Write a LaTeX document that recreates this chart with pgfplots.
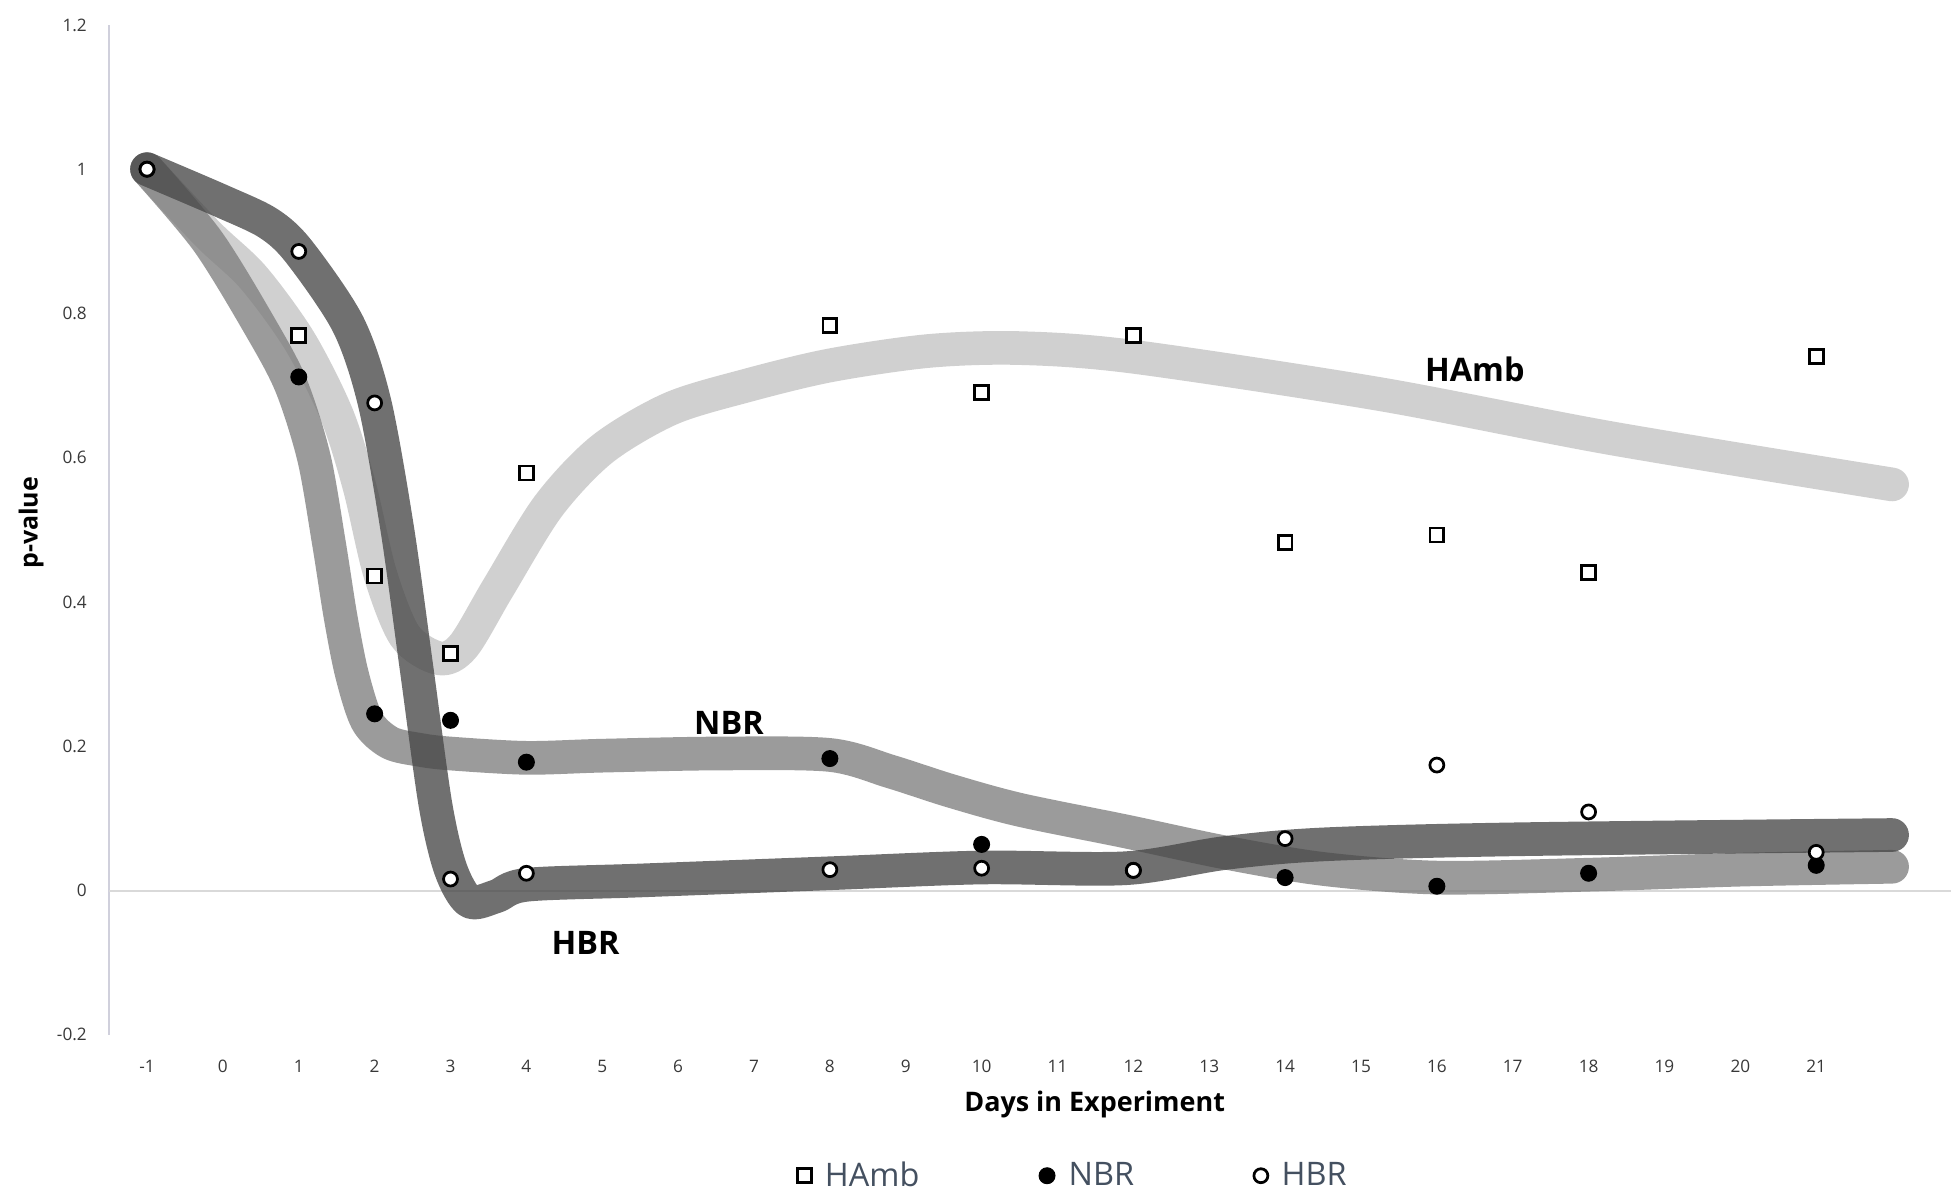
\documentclass[border=0pt]{standalone}
\usepackage{fontspec}
\setmainfont{Open Sans}
\usepackage{pgfplots}
\pgfplotsset{compat=1.18}
\definecolor{cHAmb}{HTML}{C3C3C3}
\definecolor{cNBR}{HTML}{7F7F7F}
\definecolor{cHBR}{HTML}{484848}
\definecolor{axgray}{HTML}{D0D0DC}
\definecolor{zerogray}{HTML}{D9D9D9}
\definecolor{tickcol}{HTML}{383838}
\definecolor{legcol}{HTML}{445060}
\begin{document}
\begin{tikzpicture}
\useasboundingbox (-43.75pt,-66pt) rectangle (740.25pt,415pt);
\begin{axis}[
  at={(0pt,0pt)}, anchor=south west, scale only axis,
  width=738.75pt, height=405pt,
  xmin=-0.5, xmax=23.78, ymin=-0.2, ymax=1.2,
  axis lines*=left,
  x axis line style={draw=none},
  y axis line style={draw=axgray, line width=0.8pt},
  major tick length=0pt,
  xtick={0,...,22},
  xticklabels={-1,0,1,2,3,4,5,6,7,8,9,10,11,12,13,14,15,16,17,18,19,20,21},
  ytick={-0.2,0,0.2,0.4,0.6,0.8,1,1.2},
  yticklabels={-0.2,0,0.2,0.4,0.6,0.8,1,1.2},
  xticklabel style={font=\fontsize{6.9}{8}\selectfont, text=tickcol, anchor=center, yshift=-12.5pt},
  yticklabel style={font=\fontsize{6.9}{8}\selectfont, text=tickcol, anchor=east, inner sep=0pt, xshift=-8.75pt},
  extra y ticks={0}, extra y tick labels={},
  extra y tick style={grid=major, major grid style={draw=zerogray, line width=0.8pt}},
  clip=false,
  legend columns=3,
  legend style={at={(0.524,-0.1395)}, anchor=center, draw=none, fill=none,
    font=\fontsize{13}{15}\selectfont, text=legcol,
    /tikz/every odd column/.append style={column sep=3.5pt},
    /tikz/every even column/.append style={column sep=46pt}},
]
% hand-drawn style bands
\addplot[forget plot, smooth, draw=cHAmb, line width=13.5pt, line cap=round, line join=round, opacity=0.78] coordinates {
(0,1.0) (0.8,0.91) (1.4,0.85) (2.01,0.762) (2.5,0.66) (2.8,0.56) (3.07,0.44) (3.4,0.353) (3.85,0.322) (4.17,0.339) (4.63,0.42) (5.29,0.533) (6.0,0.612) (6.9,0.668) (7.9,0.70) (9.0,0.728) (10.3,0.748) (11.5,0.752) (13.0,0.74) (16.26,0.688) (19.3,0.627) (23.0,0.563)
};
\addplot[forget plot, smooth, draw=cNBR, line width=13.5pt, line cap=round, line join=round, opacity=0.78] coordinates {
(0,1.0) (0.8,0.90) (1.5,0.78) (1.9,0.70) (2.2,0.60) (2.4,0.48) (2.55,0.38) (2.7,0.30) (2.9,0.235) (3.2,0.205) (3.6,0.195) (4.0,0.19) (5.0,0.184) (6.0,0.187) (7.5,0.19) (9.0,0.188) (9.8,0.165) (10.6,0.138) (11.5,0.112) (12.9,0.082) (14.2,0.053) (15.5,0.030) (17.0,0.018) (19.0,0.022) (21.0,0.029) (23.0,0.033)
};
\addplot[forget plot, smooth, draw=cHBR, line width=13.5pt, line cap=round, line join=round, opacity=0.78] coordinates {
(0,1.0) (1.0,0.955) (1.6,0.925) (2.0,0.886) (2.65,0.785) (3.0,0.676) (3.3,0.50) (3.55,0.31) (3.8,0.12) (4.0,0.03) (4.25,-0.015) (4.6,-0.008) (5.0,0.008) (6.5,0.014) (9.0,0.024) (11.0,0.032) (12.9,0.031) (14.2,0.052) (15.5,0.064) (18.0,0.071) (23.0,0.077)
};
% data points
\addplot[only marks, mark=square*, mark size=2.8pt, mark options={fill=white, draw=black, line width=1.1pt}] coordinates {
(2,0.769) (3,0.436) (4,0.329) (5,0.579) (9,0.783) (11,0.690) (13,0.769) (15,0.483) (17,0.493) (19,0.441) (22,0.740)
};
\addlegendentry{HAmb}
\addplot[only marks, mark=*, mark size=3.2pt, mark options={fill=black, draw=black}] coordinates {
(0,1.0) (2,0.712) (3,0.245) (4,0.236) (5,0.178) (9,0.183) (11,0.064) (13,0.028) (15,0.018) (17,0.006) (19,0.024) (22,0.035)
};
\addlegendentry{NBR}
\addplot[only marks, mark=*, mark size=2.8pt, mark options={fill=white, draw=black, line width=1.1pt}] coordinates {
(0,1.0) (2,0.886) (3,0.676) (4,0.016) (5,0.024) (9,0.029) (11,0.031) (13,0.028) (15,0.072) (17,0.174) (19,0.109) (22,0.053)
};
\addlegendentry{HBR}
% labels
\node[font=\bfseries\fontsize{13}{15}\selectfont, text=black] at (axis cs:17.5,0.722) {HAmb};
\node[font=\bfseries\fontsize{13}{15}\selectfont, text=black] at (axis cs:7.67,0.233) {NBR};
\node[font=\bfseries\fontsize{13}{15}\selectfont, text=black] at (axis cs:5.78,-0.073) {HBR};
\node[font=\bfseries\fontsize{10.8}{12}\selectfont, yshift=-28pt] at (rel axis cs:0.535,0) {Days in Experiment};
\node[font=\bfseries\fontsize{10}{12}\selectfont, xshift=-31.25pt, rotate=90] at (rel axis cs:0,0.507) {p-value};
\end{axis}
\end{tikzpicture}
\end{document}
